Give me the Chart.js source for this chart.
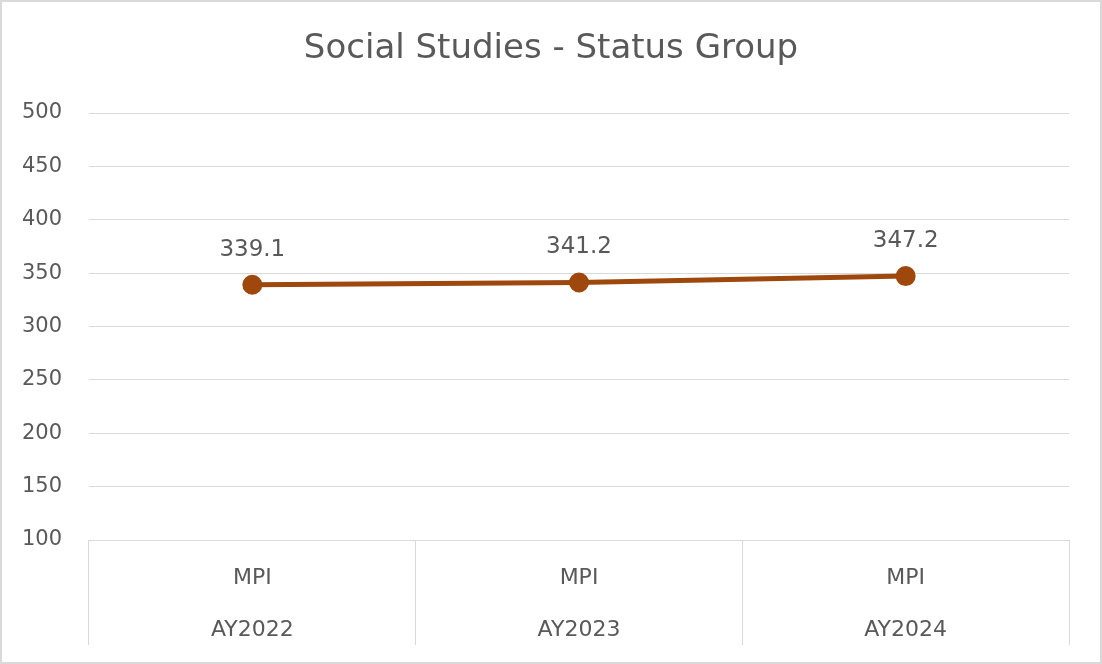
<!DOCTYPE html>
<html>
<head>
<meta charset="utf-8">
<script src="https://cdn.jsdelivr.net/npm/chart.js@4.4.0/dist/chart.umd.min.js"></script>
<style>
  html, body { margin: 0; padding: 0; background: #fff; }
  #wrap { width: 1102px; height: 664px; position: relative; }
</style>
</head>
<body>
<div id="wrap"><canvas id="c" width="1102" height="664"></canvas></div>
<script>
const measures = ["MPI", "MPI", "MPI"];
const years = ["AY2022", "AY2023", "AY2024"];
const values = [339.1, 341.2, 347.2];
const chartTitle = "Social Studies - Status Group";

const textColor = "#595959";
const fontFamily = "'DejaVu Sans', 'Noto Sans', sans-serif";

const borderPlugin = {
  id: "outerBorder",
  beforeDraw(chart) {
    const ctx = chart.ctx;
    ctx.save();
    ctx.fillStyle = "#ffffff";
    ctx.fillRect(0, 0, chart.width, chart.height);
    ctx.strokeStyle = "#d9d9d9";
    ctx.lineWidth = 2;
    ctx.strokeRect(1, 1, chart.width - 2, chart.height - 2);
    ctx.font = "34px " + fontFamily;
    ctx.fillStyle = textColor;
    ctx.textAlign = "center";
    ctx.textBaseline = "middle";
    ctx.fillText(chartTitle, chart.width / 2, 49);
    ctx.restore();
  }
};

const labelPlugin = {
  id: "valueLabels",
  afterDatasetsDraw(chart) {
    const ctx = chart.ctx;
    const meta = chart.getDatasetMeta(0);
    ctx.save();
    ctx.font = "23px " + fontFamily;
    ctx.fillStyle = textColor;
    ctx.textAlign = "center";
    ctx.textBaseline = "middle";
    meta.data.forEach((pt, i) => {
      ctx.fillText(values[i].toFixed(1), pt.x, pt.y - 35);
    });
    ctx.restore();
  }
};

new Chart(document.getElementById("c"), {
  type: "line",
  data: {
    labels: measures.map((m, i) => [m, years[i]]),
    datasets: [{
      data: values,
      borderColor: "#9E480E",
      backgroundColor: "#9E480E",
      borderWidth: 5,
      pointRadius: 7.5,
      pointHoverRadius: 7.5,
      pointBackgroundColor: "#9E480E",
      pointBorderColor: "#9E480E",
      tension: 0
    }]
  },
  options: {
    responsive: false,
    animation: false,
    layout: { padding: { left: 0, right: 33, top: 113, bottom: 19 } },
    plugins: {
      legend: { display: false },
      tooltip: { enabled: false },
      title: { display: false }
    },
    scales: {
      x: {
        offset: true,
        grid: {
          offset: true,
          drawOnChartArea: false,
          drawTicks: true,
          tickLength: 105,
          color: "#d9d9d9",
          lineWidth: 1
        },
        border: { display: false },
        ticks: {
          color: textColor,
          padding: -93,
          maxRotation: 0,
          autoSkip: false,
          font: { family: fontFamily, size: 22, lineHeight: 2.364 }
        },
        afterFit(s) { s.height = 105; }
      },
      y: {
        min: 100,
        max: 500,
        ticks: {
          stepSize: 50,
          color: textColor,
          padding: 27,
          font: { family: fontFamily, size: 21 }
        },
        grid: { color: "#d9d9d9", lineWidth: 1, drawTicks: false },
        border: { display: false },
        afterFit(s) { s.width = 89; }
      }
    }
  },
  plugins: [borderPlugin, labelPlugin]
});
</script>
</body>
</html>
